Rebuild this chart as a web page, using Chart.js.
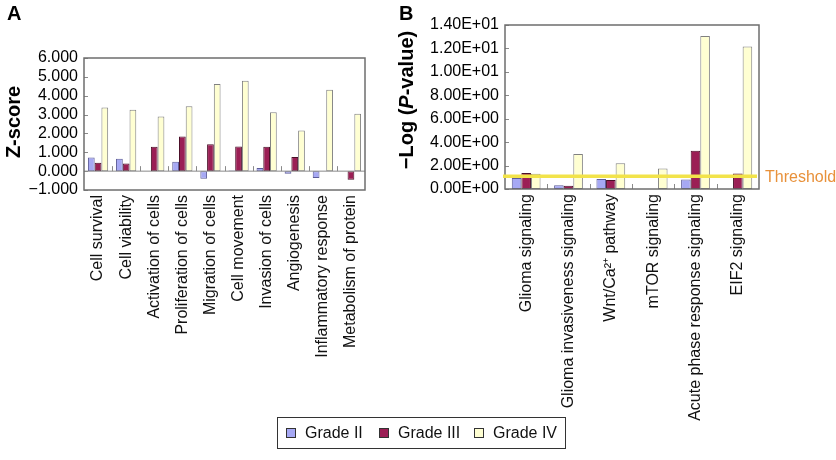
<!DOCTYPE html>
<html>
<head>
<meta charset="utf-8">
<script src="https://cdn.jsdelivr.net/npm/chart.js@4.4.0/dist/chart.umd.min.js"></script>
<style>
  body { margin: 0; background: #fff; font-family: "Liberation Sans", Arial, sans-serif; }
  #wrap { position: relative; width: 836px; height: 460px; overflow: hidden; }
  canvas { position: absolute; top: 0; }
  #chartA { left: 0; }
  #chartB { left: 395px; }
  .panel { position: absolute; font-weight: bold; font-size: 20px; color: #000; }
  #legend { position: absolute; left: 277px; top: 417px; width: 287px; height: 30px;
            border: 1px solid #333; font-size: 16px; color: #111; white-space: nowrap; }
  .item { position: absolute; top: 0; height: 30px; display: flex; align-items: center; }
  .sw { display: inline-block; width: 8px; height: 8px; border: 1px solid #333; margin-right: 9px; }
</style>
</head>
<body>
<div id="wrap">
  <canvas id="chartA" width="395" height="460"></canvas>
  <canvas id="chartB" width="441" height="460"></canvas>
  <div class="panel" style="left:7px; top:2px;">A</div>
  <div class="panel" style="left:399px; top:2px;">B</div>
  <div id="legend"></div>
</div>
<script>
'use strict';

// Panel A: Z-scores of functions.
const functionLabels = ['Cell survival', 'Cell viability', 'Activation of cells', 'Proliferation of cells',
  'Migration of cells', 'Cell movement', 'Invasion of cells', 'Angiogenesis',
  'Inflammatory response', 'Metabolism of protein'];
const zGradeII = [0.72, 0.66, 0, 0.50, -0.41, 0.04, 0.17, -0.14, -0.36, 0];
const zGradeIII = [0.45, 0.41, 1.29, 1.84, 1.43, 1.31, 1.29, 0.75, 0, -0.45];
const zGradeIV = [3.37, 3.26, 2.90, 3.44, 4.62, 4.80, 3.12, 2.15, 4.32, 3.05];
const zTicks = { min: -1, max: 6, step: 1 };

// Panel B: -log(P-value) of pathways.
const pathwayLabels = ['Glioma signaling', 'Glioma invasiveness signaling', 'Wnt/Ca²⁺ pathway',
  'mTOR signaling', 'Acute phase response signaling', 'EIF2 signaling'];
const pGradeII = [0.94, 0.31, 0.85, 0, 0.82, 0];
const pGradeIII = [1.36, 0.28, 0.77, 0, 3.26, 1.33];
const pGradeIV = [1.30, 2.98, 2.20, 1.76, 13.07, 12.16];
const pTicks = { min: 0, max: 14, step: 2 };
const threshold = 1.08;

const gradeNames = ['Grade II', 'Grade III', 'Grade IV'];
const gradeFill = ['#A6A8F4', '#9B1F55', '#FFFFD2'];
const gradeBorder = ['#5c5c98', '#4a1028', '#808080'];
// legend item left offsets inside the legend box
const legendOffsets = [8, 101, 196];

Chart.defaults.font.family = '"Liberation Sans", Arial, sans-serif';
Chart.defaults.color = '#000';

function datasets(series) {
  return series.map((data, i) => ({
    label: gradeNames[i],
    data: data,
    backgroundColor: gradeFill[i],
    borderColor: gradeBorder[i],
    borderWidth: 1,
    borderSkipped: false,
    barPercentage: 1
  }));
}

// 1.40E+01 style labels
function sci(v) {
  if (v === 0) return '0.00E+00';
  const e = Math.floor(Math.log10(Math.abs(v)) + 1e-9);
  const m = v / Math.pow(10, e);
  return m.toFixed(2) + 'E' + (e < 0 ? '-' : '+') + String(Math.abs(e)).padStart(2, '0');
}

// Rotated y title, made of parts so "P" can be italic.
function drawTitle(ctx, cx, cy, parts) {
  ctx.save();
  ctx.translate(cx, cy);
  ctx.rotate(-Math.PI / 2);
  let total = 0;
  parts.forEach(p => { ctx.font = p.font; p.w = ctx.measureText(p.text).width; total += p.w; });
  let pos = -total / 2;
  ctx.textBaseline = 'middle';
  ctx.fillStyle = '#000';
  parts.forEach(p => { ctx.font = p.font; ctx.fillText(p.text, pos, 0); pos += p.w; });
  ctx.restore();
}

// Box, zero line and inward tick marks, like the spreadsheet chart.
const framePlugin = {
  id: 'frame',
  afterDatasetsDraw(chart, args, opts) {
    const { ctx, chartArea: a, scales: { x, y } } = chart;
    const zeroY = y.getPixelForValue(0);
    ctx.save();
    ctx.strokeStyle = '#8a8a8a';
    ctx.lineWidth = 1;
    if (opts.zeroLine) {
      ctx.beginPath(); ctx.moveTo(a.left, zeroY); ctx.lineTo(a.right, zeroY); ctx.stroke();
    }
    const n = chart.data.labels.length;
    ctx.beginPath();
    for (let i = 1; i < n; i++) {
      const px = Math.round((x.getPixelForValue(i - 1) + x.getPixelForValue(i)) / 2) + 0.5;
      ctx.moveTo(px, zeroY); ctx.lineTo(px, zeroY - 5);
    }
    y.ticks.forEach(t => {
      const py = Math.round(y.getPixelForValue(t.value)) + 0.5;
      ctx.moveTo(a.left, py); ctx.lineTo(a.left + 4, py);
    });
    ctx.stroke();
    ctx.strokeStyle = '#6e6e6e';
    ctx.lineWidth = 1.5;
    ctx.strokeRect(a.left, a.top, a.right - a.left, a.bottom - a.top);
    ctx.restore();
  },
  afterDraw(chart, args, opts) {
    const a = chart.chartArea;
    drawTitle(chart.ctx, opts.titleX, (a.top + a.bottom) / 2 + opts.titleShift, opts.title);
  }
};

// Yellow threshold line with label, panel B only.
const thresholdPlugin = {
  id: 'threshold',
  afterDatasetsDraw(chart) {
    if (!chart.options.plugins.threshold) return;
    const { ctx, chartArea: a, scales: { y } } = chart;
    const py = y.getPixelForValue(threshold);
    ctx.save();
    ctx.strokeStyle = '#F2E34A';
    ctx.lineWidth = 3.5;
    ctx.beginPath(); ctx.moveTo(a.left - 2, py); ctx.lineTo(a.right - 2, py); ctx.stroke();
    ctx.fillStyle = '#E8913A';
    ctx.font = '16px "Liberation Sans", Arial, sans-serif';
    ctx.textBaseline = 'middle';
    ctx.fillText('Threshold', a.right + 6, py + 1);
    ctx.restore();
  }
};

function makeChart(el, labels, series, cfg) {
  return new Chart(el, {
    type: 'bar',
    data: { labels: labels, datasets: datasets(series) },
    options: {
      responsive: false,
      animation: false,
      layout: { padding: cfg.padding },
      datasets: { bar: { categoryPercentage: cfg.catPct } },
      plugins: {
        legend: { display: false },
        tooltip: { enabled: false },
        frame: cfg.frame,
        threshold: cfg.threshold
      },
      scales: {
        x: {
          grid: { display: false, drawTicks: false },
          border: { display: false },
          ticks: { autoSkip: false, minRotation: 90, maxRotation: 90, padding: 5,
                   font: { size: 16 }, color: '#111' },
          afterFit(scale) { scale.height = cfg.xHeight; }
        },
        y: {
          min: cfg.ticks.min,
          max: cfg.ticks.max,
          grid: { display: false, drawTicks: false },
          border: { display: false },
          ticks: { autoSkip: false, stepSize: cfg.ticks.step, padding: 6, font: { size: 16 },
                   color: '#000', callback: cfg.format },
          afterFit(scale) { scale.width = cfg.yWidth; }
        }
      }
    },
    plugins: [framePlugin, thresholdPlugin]
  });
}

const bold = 'bold 20px "Liberation Sans", Arial, sans-serif';
const boldItalic = 'italic bold 20px "Liberation Sans", Arial, sans-serif';

makeChart(document.getElementById('chartA'), functionLabels, [zGradeII, zGradeIII, zGradeIV], {
  padding: { left: 0, right: 30, top: 58, bottom: 0 },
  catPct: 0.72,
  xHeight: 270,
  yWidth: 84,
  ticks: zTicks,
  format: v => v.toFixed(3).replace('-', '−'),
  frame: { zeroLine: true, titleX: 14, titleShift: -2, title: [{ text: 'Z-score', font: bold }] },
  threshold: false
});

makeChart(document.getElementById('chartB'), pathwayLabels, [pGradeII, pGradeIII, pGradeIV], {
  padding: { left: 0, right: 77, top: 25, bottom: 0 },
  catPct: 0.68,
  xHeight: 271,
  yWidth: 110,
  ticks: pTicks,
  format: v => sci(v),
  frame: { zeroLine: false, titleX: 12, titleShift: -7,
           title: [{ text: '−Log (', font: bold }, { text: 'P', font: boldItalic }, { text: '-value)', font: bold }] },
  threshold: true
});

// Shared legend under both panels.
const legendEl = document.getElementById('legend');
gradeNames.forEach((name, i) => {
  const item = document.createElement('div');
  item.className = 'item';
  item.style.left = legendOffsets[i] + 'px';
  item.innerHTML = '<span class="sw" style="background:' + gradeFill[i] + '"></span>' + name;
  legendEl.appendChild(item);
});
</script>
</body>
</html>
